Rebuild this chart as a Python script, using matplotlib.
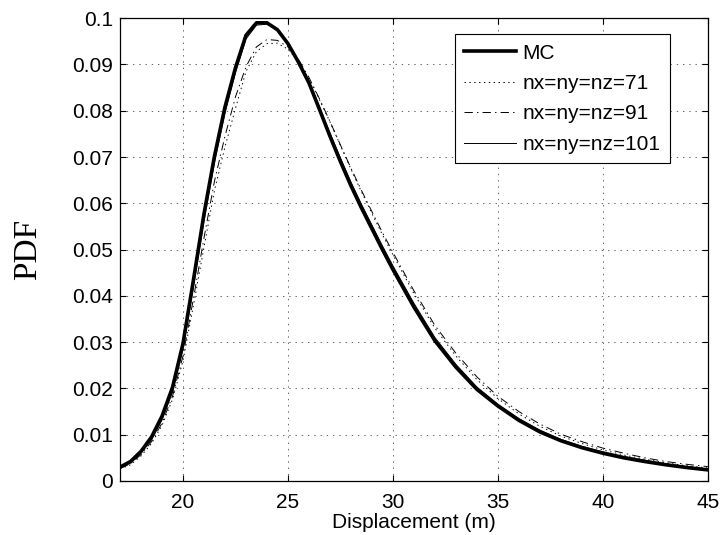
import matplotlib
matplotlib.use("Agg")
import matplotlib.pyplot as plt
import numpy as np

plt.rcParams['font.family'] = ['Liberation Sans', 'DejaVu Sans']
plt.rcParams['lines.scale_dashes'] = False

x_vals = [17, 17.5, 18, 18.5, 19, 19.5, 20, 20.5, 21, 21.5, 22, 22.5, 23, 23.5,
          24, 24.5, 25, 25.5, 26, 26.5, 27, 27.5, 28, 28.5, 29, 29.5, 30,
          31, 32, 33, 34, 35, 36, 37, 38, 39, 40, 41, 42, 43, 44, 45]

pdf_mc = [0.0030, 0.0042, 0.0064, 0.0095, 0.0140, 0.0202, 0.0297, 0.0435, 0.0577,
          0.0702, 0.0808, 0.0893, 0.0963, 0.0990, 0.0990, 0.0975, 0.0945, 0.0905,
          0.0860, 0.0803, 0.0745, 0.0690, 0.0638, 0.0590, 0.0545, 0.0500, 0.0457,
          0.0376, 0.0303, 0.0246, 0.0198, 0.0162, 0.0131, 0.0106, 0.0087, 0.0072,
          0.0060, 0.0050, 0.0042, 0.0035, 0.0029, 0.0024]

pdf_71 = [0.0026, 0.0035, 0.0054, 0.0081, 0.0120, 0.0176, 0.0260, 0.0380, 0.0505,
          0.0628, 0.0722, 0.0805, 0.0885, 0.0928, 0.0945, 0.0946, 0.0933, 0.0906,
          0.0869, 0.0824, 0.0776, 0.0725, 0.0674, 0.0625, 0.0578, 0.0532, 0.0489,
          0.0405, 0.0330, 0.0270, 0.0219, 0.0178, 0.0145, 0.0118, 0.0097, 0.0081,
          0.0067, 0.0056, 0.0047, 0.0039, 0.0033, 0.0028]

pdf_91 = [0.0027, 0.0037, 0.0057, 0.0085, 0.0125, 0.0183, 0.0270, 0.0395, 0.0525,
          0.0648, 0.0745, 0.0830, 0.0895, 0.0938, 0.0954, 0.0952, 0.0938, 0.0911,
          0.0872, 0.0826, 0.0777, 0.0726, 0.0676, 0.0628, 0.0582, 0.0537, 0.0494,
          0.0411, 0.0336, 0.0276, 0.0225, 0.0183, 0.0150, 0.0123, 0.0101, 0.0085,
          0.0071, 0.0060, 0.0050, 0.0042, 0.0036, 0.0031]

pdf_101 = [0.0028, 0.0039, 0.0060, 0.0089, 0.0132, 0.0192, 0.0285, 0.0420, 0.0562,
           0.0688, 0.0795, 0.0882, 0.0955, 0.0985, 0.0987, 0.0975, 0.0946, 0.0908,
           0.0864, 0.0808, 0.0752, 0.0698, 0.0646, 0.0598, 0.0553, 0.0508, 0.0465,
           0.0384, 0.0310, 0.0252, 0.0203, 0.0166, 0.0135, 0.0110, 0.0090, 0.0075,
           0.0063, 0.0053, 0.0045, 0.0037, 0.0031, 0.0026]

labels = ['MC', 'nx=ny=nz=71', 'nx=ny=nz=91', 'nx=ny=nz=101']
x_ticks = [20, 25, 30, 35, 40, 45]
y_ticks = [0, 0.01, 0.02, 0.03, 0.04, 0.05, 0.06, 0.07, 0.08, 0.09, 0.1]
y_ticklabels = ['0', '0.01', '0.02', '0.03', '0.04', '0.05', '0.06', '0.07', '0.08', '0.09', '0.1']

fig = plt.figure(figsize=(7.23, 5.35), dpi=100)
ax = fig.add_axes([0.166, 0.101, 0.813, 0.865])

ax.plot(x_vals, pdf_mc, color='k', lw=2.6, label=labels[0])
ax.plot(x_vals, pdf_71, color='k', lw=0.7, linestyle=(0, (1, 2.5)), label=labels[1])
ax.plot(x_vals, pdf_91, color='k', lw=0.7, linestyle=(0, (6, 3, 1, 3)), label=labels[2])
ax.plot(x_vals, pdf_101, color='k', lw=0.7, label=labels[3])

ax.set_xlim(17, 45)
ax.set_ylim(0, 0.1)
ax.set_xticks(x_ticks)
ax.set_yticks(y_ticks)
ax.set_yticklabels(y_ticklabels)
ax.tick_params(direction='in', length=4, width=0.8, labelsize=15, top=True, right=True)
ax.tick_params(axis='x', pad=9)
ax.tick_params(axis='y', pad=5)
for s in ax.spines.values():
    s.set_linewidth(0.9)

ax.grid(True, color='0.3', lw=0.6, linestyle=(0, (1, 3.5)))

ax.set_xlabel('Displacement (m)', fontsize=15)
ax.xaxis.set_label_coords(0.5, -0.069)
ax.set_ylabel('PDF', fontsize=24, family=['Liberation Serif', 'DejaVu Serif'])
ax.yaxis.set_label_coords(-0.156, 0.5)
ax.yaxis.label.set_verticalalignment('center')

leg = ax.legend(loc='upper right', bbox_to_anchor=(0.935, 0.9655), borderaxespad=0,
                fontsize=15, fancybox=False, edgecolor='k', framealpha=1,
                handlelength=2.5, handletextpad=0.3, labelspacing=0.55, borderpad=0.45)
leg.get_frame().set_linewidth(0.8)

fig.savefig('out.png', dpi=100)
